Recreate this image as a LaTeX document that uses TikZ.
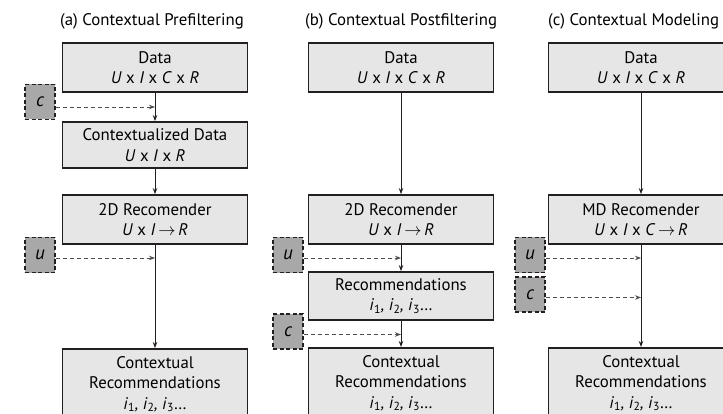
\documentclass[tikz,border=0pt]{standalone}
\usepackage{fontspec}
\setmainfont{PT Sans}
\usetikzlibrary{arrows.meta}
\definecolor{boxfill}{HTML}{E6E6E6}
\definecolor{ctxfill}{HTML}{A8A8A8}
\definecolor{ink}{HTML}{231F20}
\newcommand{\ux}{\textit{U}~x~}
\newcommand{\ix}[1]{\textit{i}\textsubscript{#1}}
\newcommand{\arr}{\,\smash{$\rightarrow$}\,}
\begin{document}
\begin{tikzpicture}[x=1pt,y=-1pt,
  font=\fontsize{16.8}{20.5}\selectfont,
  box/.style={draw=ink, line width=1.8pt, fill=boxfill, minimum width=185pt, align=center, inner sep=0pt},
  ctx/.style={draw=ink, dash pattern=on 4pt off 2.5pt, line width=1.3pt, fill=ctxfill, minimum width=30pt, minimum height=35pt, inner sep=0pt, font=\fontsize{19}{20}\selectfont\itshape},
  flow/.style={draw=ink, line width=1pt, -{Stealth[length=6pt,width=4.5pt]}},
  ctxflow/.style={draw=ink!80, line width=0.9pt, dash pattern=on 4pt off 3pt, -{Stealth[length=6pt,width=4.5pt]}},
  title/.style={anchor=west, inner sep=0pt},
  inbox/.style={anchor=north, align=center, inner sep=0pt}]
\useasboundingbox (0,0) rectangle (723,414);
\clip (0,0) rectangle (723,414);
% titles
\node[title] (tA) at (60,21) {(a) Contextual Prefiltering};
\node[title] (tB) at (305,21) {(b) Contextual Postfiltering};
\node[title] (tC) at (548,21) {(c) Contextual Modeling};
% column a
\node[box, minimum height=49pt] (dA) at (155,67.5) {Data\\\ux\textit{I}~x~\textit{C}~x~\textit{R}};
\node[box, minimum height=46pt] (cdA) at (155,145) {Contextualized Data\\\ux\textit{I}~x~\textit{R}};
\node[box, minimum height=49pt] (rA) at (155,219.5) {2D Recomender\\\ux\textit{I}\arr\textit{R}};
\node[box, minimum height=80pt, anchor=north] (bA) at (155,348) {};
\node[inbox] (bAt) at ([yshift=-8pt]bA.north) {Contextual\\Recommendations\\\ix{1}\textit{,} \ix{2}\textit{,} \ix{3}\ldots};
\node[ctx] (cA) at (40,102) {c};
\node[ctx] (uA) at (40,255) {u};
\draw[flow] (dA) -- (cdA);
\draw[flow] (cdA) -- (rA);
\draw[flow] (rA) -- (bA);
\draw[ctxflow] ([yshift=-5pt]cA.east) -- ([yshift=-5pt]cA.east -| dA.south);
\draw[ctxflow] ([yshift=-3pt]uA.east) -- ([yshift=-3pt]uA.east -| dA.south);
% column b
\node[box, minimum height=49pt] (dB) at (401,67.5) {Data\\\ux\textit{I}~x~\textit{C}~x~\textit{R}};
\node[box, minimum height=49pt] (rB) at (401,219.5) {2D Recomender\\\ux\textit{I}\arr\textit{R}};
\node[box, minimum height=48pt] (recB) at (401,296) {Recommendations\\\ix{1}\textit{,} \ix{2}\textit{,} \ix{3}\ldots};
\node[box, minimum height=80pt, anchor=north] (bB) at (401,347) {};
\node[inbox] (bBt) at ([yshift=-8pt]bB.north) {Contextual\\Recommendations\\\ix{1}\textit{,} \ix{2}\textit{,} \ix{3}\ldots};
\node[ctx] (uB) at (288,255) {u};
\node[ctx] (cB) at (288,331.5) {c};
\draw[flow] (dB) -- (rB);
\draw[flow] (rB) -- (recB);
\draw[flow] (recB) -- (bB);
\draw[ctxflow] ([yshift=-3pt]uB.east) -- ([yshift=-3pt]uB.east -| dB.south);
\draw[ctxflow] ([yshift=-3pt]cB.east) -- ([yshift=-3pt]cB.east -| dB.south);
% column c
\node[box, minimum height=49pt] (dC) at (641,67.5) {Data\\\ux\textit{I}~x~\textit{C}~x~\textit{R}};
\node[box, minimum height=49pt] (rC) at (641,219.5) {MD Recomender\\\ux\textit{I}~x~\textit{C}\arr\textit{R}};
\node[box, minimum height=80pt, anchor=north] (bC) at (641,347) {};
\node[inbox] (bCt) at ([yshift=-8pt]bC.north) {Contextual\\Recommendations\\\ix{1}\textit{,} \ix{2}\textit{,} \ix{3}\ldots};
\node[ctx] (uC) at (530,255) {u};
\node[ctx] (cC) at (530,294.5) {c};
\draw[flow] (dC) -- (rC);
\draw[flow] (rC) -- (bC);
\draw[ctxflow] ([yshift=-3pt]uC.east) -- ([yshift=-3pt]uC.east -| dC.south);
\draw[ctxflow] ([yshift=-3pt]cC.east) -- ([yshift=-3pt]cC.east -| dC.south);
\end{tikzpicture}
\end{document}
